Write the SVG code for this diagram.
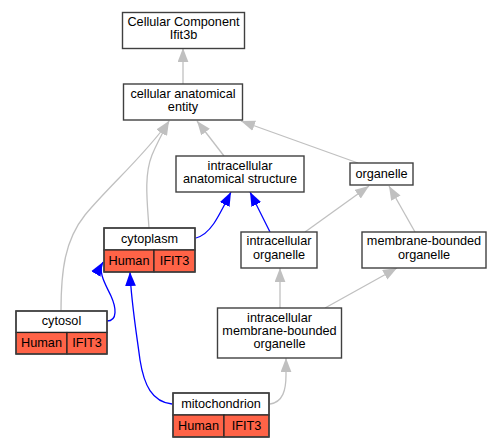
<svg xmlns="http://www.w3.org/2000/svg" width="501" height="448" viewBox="0 0 501 448">
<style>
text{font-family:"Liberation Sans",Arial,sans-serif;font-size:12.7px;text-anchor:middle;fill:#000}
.box{fill:#fff;stroke:#404040;stroke-width:1.4}
.cell{fill:#ff6347;stroke:#222;stroke-width:1.2}
.g{fill:none;stroke:#c0c0c0;stroke-width:1.3}
.b{fill:none;stroke:#0000ff;stroke-width:1.3}
</style>
<defs>
<marker id="ag" markerUnits="userSpaceOnUse" markerWidth="14" markerHeight="11" viewBox="0 0 13 10" refX="13" refY="5" orient="auto"><path d="M0,0 L13,5 L0,10 z" fill="#c0c0c0"/></marker>
<marker id="ab" markerUnits="userSpaceOnUse" markerWidth="14" markerHeight="11" viewBox="0 0 13 10" refX="13" refY="5" orient="auto"><path d="M0,0 L13,5 L0,10 z" fill="#0000ff"/></marker>
</defs>
<rect width="501" height="448" fill="#fff"/>
<g id="edges">
<path class="g" marker-end="url(#ag)" d="M183,84 L183,48"/>
<path class="g" marker-end="url(#ag)" d="M224,156 L197,121"/>
<path class="g" marker-end="url(#ag)" d="M358,163 L241,121"/>
<path class="g" marker-end="url(#ag)" d="M149,228 C147,200 144,175 152,155 C157,143 163,132 169,121"/>
<path class="g" marker-end="url(#ag)" d="M61,311 C61,270 65,240 85,215 C110,185 145,155 169,121"/>
<path class="b" marker-end="url(#ab)" d="M196,238 C210,234 217,220 231,192"/>
<path class="b" marker-end="url(#ab)" d="M270,232 L250,192"/>
<path class="g" marker-end="url(#ag)" d="M305,232 L369,186"/>
<path class="g" marker-end="url(#ag)" d="M415,232 L389,186"/>
<path class="g" marker-end="url(#ag)" d="M280,308 L280,268"/>
<path class="g" marker-end="url(#ag)" d="M325,308 L397,268"/>
<path class="b" marker-end="url(#ab)" d="M107,321 C118,321 116,307 111,296 C107,287 97,272 103,262"/>
<path class="b" marker-end="url(#ab)" d="M172,404 C152,402 144,385 140,360 C136,330 131,300 130,272"/>
<path class="g" marker-end="url(#ag)" d="M270,404 C283,402 286,390 286,375 L286,358"/>
</g>
<g id="n_cc">
<rect class="box" x="122.5" y="12.5" width="122" height="36"/>
<text x="183.5" y="25.8">Cellular Component</text>
<text x="183.5" y="38.8">Ifit3b</text>
</g>
<g id="n_cae">
<rect class="box" x="123.5" y="84" width="119" height="36"/>
<text x="183" y="98">cellular anatomical</text>
<text x="183" y="111">entity</text>
</g>
<g id="n_ias">
<rect class="box" x="176" y="156" width="128" height="36"/>
<text x="240" y="169.5">intracellular</text>
<text x="240" y="182.5">anatomical structure</text>
</g>
<g id="n_org">
<rect class="box" x="350" y="163" width="63" height="22"/>
<text x="381.5" y="177.5">organelle</text>
</g>
<g id="n_io">
<rect class="box" x="241" y="232" width="76" height="36"/>
<text x="279" y="245.3">intracellular</text>
<text x="279" y="258.5">organelle</text>
</g>
<g id="n_mbo">
<rect class="box" x="362" y="232" width="124" height="36"/>
<text x="424" y="245.3">membrane-bounded</text>
<text x="424" y="258.5">organelle</text>
</g>
<g id="n_imbo">
<rect class="box" x="217.5" y="308" width="124" height="50"/>
<text x="279.5" y="321.7">intracellular</text>
<text x="279.5" y="335">membrane-bounded</text>
<text x="279.5" y="348.3">organelle</text>
</g>
<g id="n_cytoplasm">
<rect class="box" x="104" y="228" width="91" height="22"/>
<rect class="cell" x="104" y="250" width="50" height="22"/>
<rect class="cell" x="154" y="250" width="41" height="22"/>
<rect x="104" y="228" width="91" height="44" fill="none" stroke="#404040" stroke-width="1.4"/>
<text x="149.5" y="242.5">cytoplasm</text>
<text x="129" y="264.5">Human</text>
<text x="174.5" y="264.5">IFIT3</text>
</g>
<g id="n_cytosol">
<rect class="box" x="16" y="311" width="91" height="21.5"/>
<rect class="cell" x="16" y="332.5" width="51" height="21.5"/>
<rect class="cell" x="67" y="332.5" width="40" height="21.5"/>
<rect x="16" y="311" width="91" height="43" fill="none" stroke="#404040" stroke-width="1.4"/>
<text x="61.5" y="325.3">cytosol</text>
<text x="41.5" y="347">Human</text>
<text x="87" y="347">IFIT3</text>
</g>
<g id="n_mito">
<rect class="box" x="173" y="393" width="96" height="22"/>
<rect class="cell" x="173" y="415" width="51" height="22"/>
<rect class="cell" x="224" y="415" width="45" height="22"/>
<rect x="173" y="393" width="96" height="44" fill="none" stroke="#404040" stroke-width="1.4"/>
<text x="221" y="407.5">mitochondrion</text>
<text x="198.5" y="429.5">Human</text>
<text x="246.5" y="429.5">IFIT3</text>
</g>
</svg>
